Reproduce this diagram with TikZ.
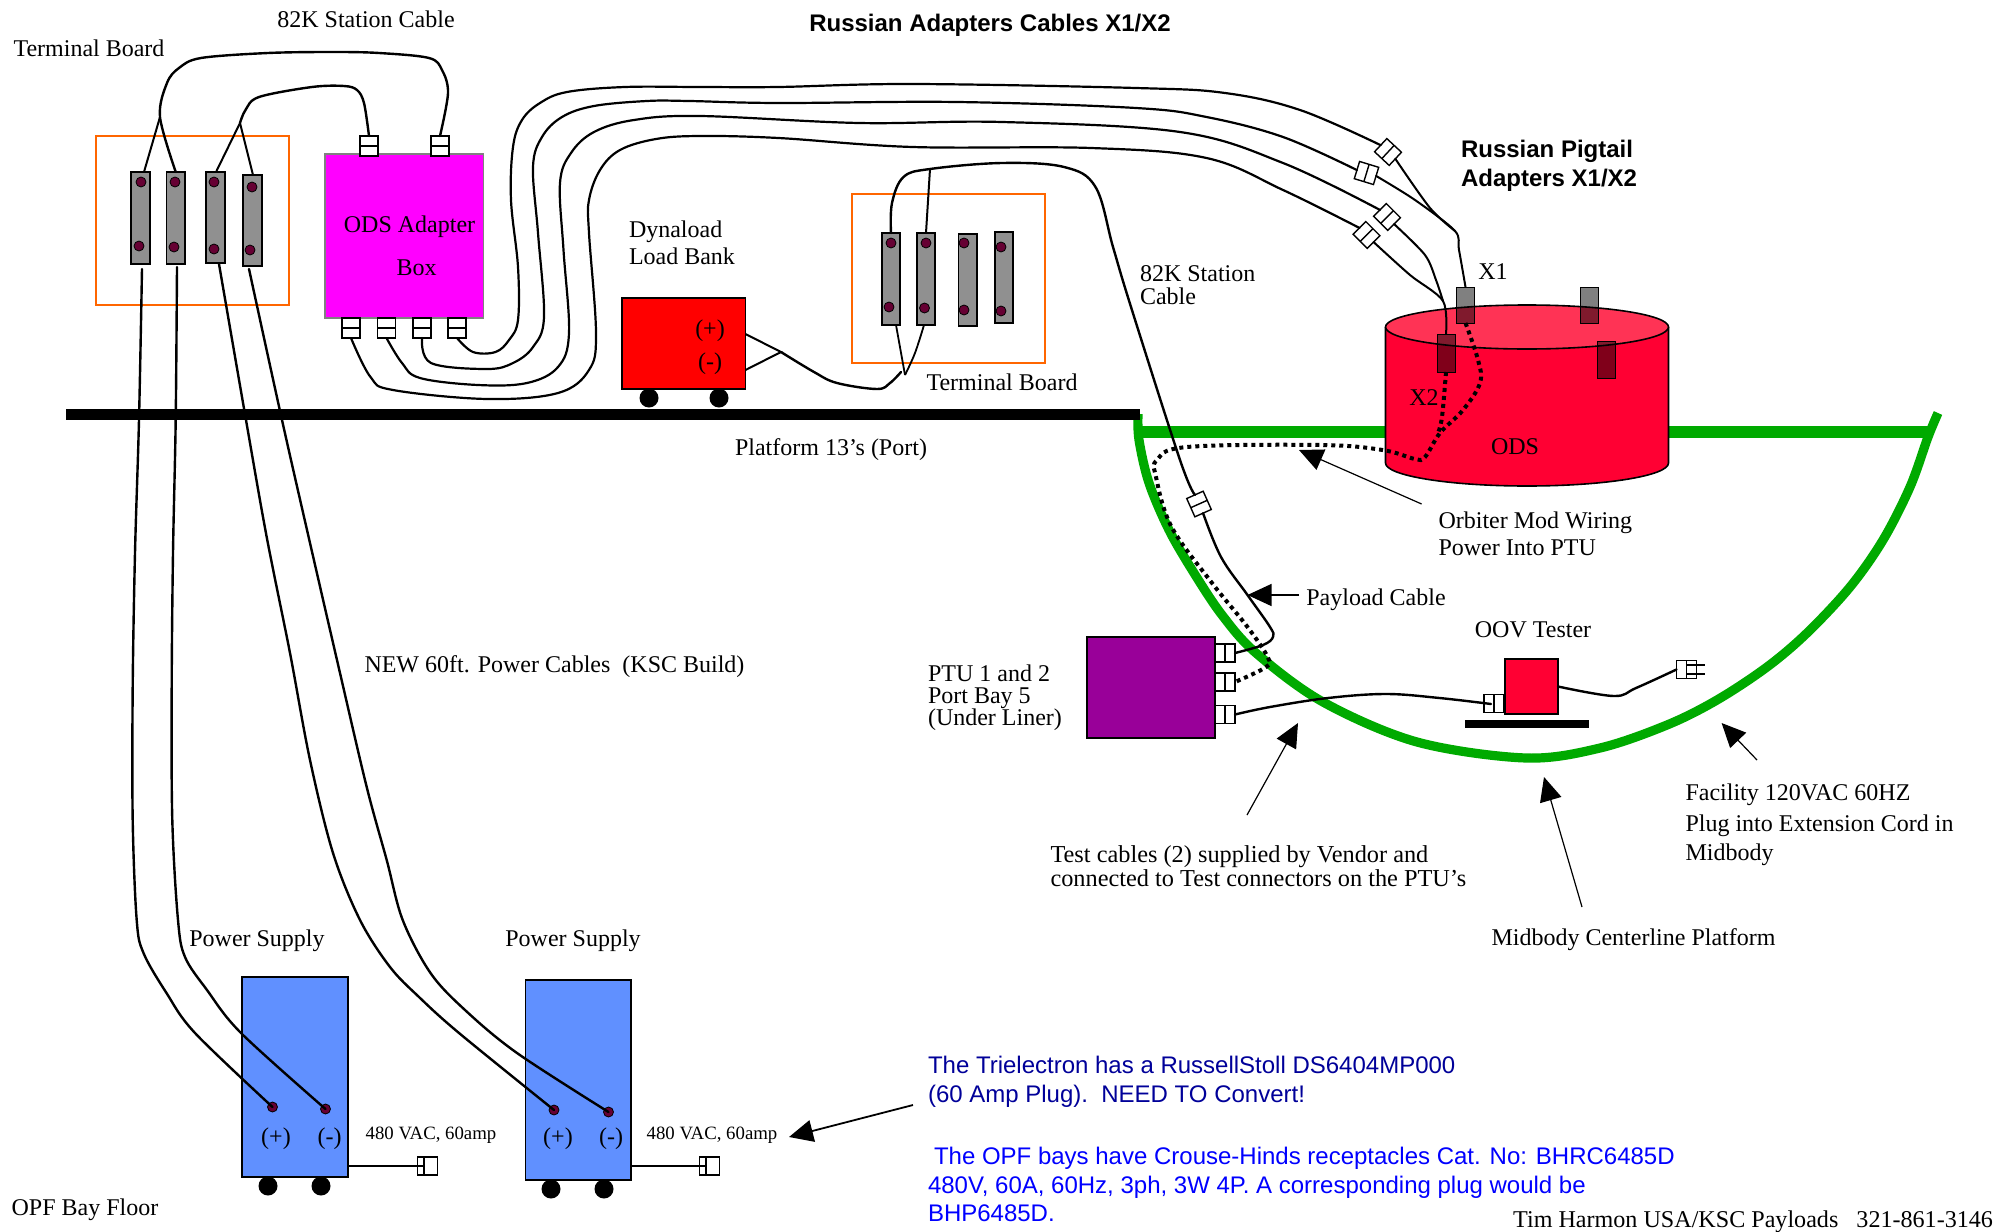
\documentclass[tikz,border=0pt]{standalone}
\usepackage{fontspec}
\setmainfont{Liberation Serif}
\setsansfont{Liberation Sans}
\usetikzlibrary{arrows.meta,calc}
\definecolor{odsred}{HTML}{FF0033}
\definecolor{odstop}{HTML}{FF3355}
\definecolor{grn}{HTML}{00AA00}
\definecolor{magen}{HTML}{FF00FF}
\definecolor{purp}{HTML}{990099}
\definecolor{psblue}{HTML}{6090FF}
\definecolor{maroon}{HTML}{660033}
\definecolor{orng}{HTML}{FF6600}
\definecolor{dkblue}{HTML}{000099}
\definecolor{barg}{HTML}{909090}
\definecolor{blkL}{HTML}{80001A}
\definecolor{blkT}{HTML}{801A2D}
\newcommand{\rbx}[6][]{%
  \pgfmathsetmacro{\cxv}{(#3+#5)/2}\pgfmathsetmacro{\cyv}{(#4+#6)/2}%
  \pgfmathsetmacro{\wv}{abs(#5-#3)/2}\pgfmathsetmacro{\hv}{abs(#6-#4)/2}%
  \node[rbase,minimum width=\wv pt,minimum height=\hv pt,#1] (#2) at (\cxv,\cyv) {};}
\newcommand{\tbar}[9]{%
  \rbx[termbar]{#1}{#2}{#3}{#4}{#5}
  \node[tdot] (#1a) at (#6,#7) {};
  \node[tdot] (#1b) at (#8,#9) {};}
\newcommand{\plugn}[3]{%
  \node[plug,rotate=#1] (#2) at (#3) {};
  \draw[line width=.7pt] (#2.north) -- (#2.south);}
\tikzset{
  rbase/.style={rectangle,inner sep=0pt,outer sep=0pt},
  termbar/.style={draw=black,fill=barg,line width=.8pt},
  tdot/.style={circle,draw=black,fill=maroon,line width=.4pt,minimum size=5pt,inner sep=0pt},
  wheel/.style={circle,fill=black,minimum size=9.5pt,inner sep=0pt},
  obox/.style={draw=orng,line width=.8pt},
  plug/.style={rectangle,draw=black,fill=white,line width=.7pt,inner sep=0pt,outer sep=0pt,
     minimum width=10pt,minimum height=9pt},
  cable/.style={draw=black,line width=1.2pt,line cap=round,line join=round},
  thinw/.style={draw=black,line width=.9pt},
  dotw/.style={draw=black,line width=2pt,dash pattern=on 2pt off 2pt},
  ptr/.style={draw=black,line width=.6pt,-{Triangle[length=12pt,width=11pt]}},
  lab/.style={inner sep=0pt,outer sep=0pt,font=\fontsize{12}{14}\selectfont,align=left},
  smalllab/.style={inner sep=0pt,outer sep=0pt,font=\fontsize{9.4}{11}\selectfont},
  sanslab/.style={inner sep=0pt,outer sep=0pt,font=\sffamily\fontsize{12}{14}\selectfont,align=left},
  sansb/.style={inner sep=0pt,outer sep=0pt,font=\sffamily\bfseries\fontsize{12}{14.5}\selectfont,align=left},
}
\begin{document}
\begin{tikzpicture}[x=0.5pt,y=-0.5pt]
\useasboundingbox (0,0) rectangle (2007,1231);
% ---- terminal board 1
\rbx[obox]{tb1}{96}{136}{289}{305}
\tbar{a1}{131}{172}{150}{264}{141}{182}{139}{246}
\tbar{a2}{166.5}{172}{185}{264}{175}{182}{174}{247}
\tbar{a3}{206}{172}{225}{263}{214}{182}{214}{249}
\tbar{a4}{243}{175}{262}{266}{252}{187}{250}{250}
% ---- ODS adapter box
\rbx[fill=magen,draw=gray,line width=.8pt]{adp}{325}{154}{483.5}{318}
\plugn{90}{pt1}{369,146}
\plugn{90}{pt2}{440,146}
\plugn{90}{pb1}{351,328}
\plugn{90}{pb2}{386.5,328}
\plugn{90}{pb3}{422,328}
\plugn{90}{pb4}{457,328}
% ---- load bank
\rbx[fill=red,draw=black,line width=.8pt]{load}{622}{298}{745.5}{389}
\node[wheel] (lw1) at (649,398) {};
\node[wheel] (lw2) at (719,398) {};
\coordinate (lj) at (781,352);
\coordinate (lp) at (745.5,334);
\coordinate (lm) at (745.5,370);
\draw[thinw,line width=1pt] (lp) -- (lj) -- (lm);
% ---- terminal board 2
\rbx[obox]{tb2}{852}{194}{1045}{363}
\tbar{b1}{882}{233}{900}{325}{891}{243}{889}{307}
\tbar{b2}{917}{233}{935}{325}{926}{243}{924.5}{308}
\tbar{b3}{958.5}{234}{977}{326}{964}{243}{964}{310}
\tbar{b4}{995}{232}{1013}{323}{1001}{247}{1001}{311}
% ---- green platform
\draw[grn,line width=4.6pt] plot[smooth,tension=.55] coordinates {(1138,414) (1139,440) (1149,483) (1169,530) (1194,573) (1222,615) (1256,653) (1323,702) (1417,742) (1526,758) (1600,748) (1667,725) (1717,700) (1767,667) (1807,633) (1850,587) (1883,540) (1910,487) (1928,437) (1938,413)};
\draw[grn,line width=6pt] (1140,432) -- (1928,432);
% ---- bus bar
\rbx[fill=black]{bus}{66}{408.5}{1140}{419.5}
% ---- ODS cylinder
\coordinate (odsT) at (1527,327);
\coordinate (odsB) at (1527,463);
\fill[odsred] (1385.5,327) -- (1385.5,463) arc[start angle=180,end angle=0,x radius=141.5,y radius=23] -- (1668.5,327) -- cycle;
\draw[black,line width=.8pt] (1385.5,327) -- (1385.5,463) arc[start angle=180,end angle=0,x radius=141.5,y radius=23] -- (1668.5,327);
\fill[odstop] (odsT) ellipse[x radius=141.5,y radius=22];
\rbx[fill=gray,draw=black,line width=.5pt]{xa}{1456.5}{287}{1474.5}{323}
\rbx[fill=gray,draw=black,line width=.5pt]{xb}{1580}{287}{1598}{323}
\rbx[fill=blkL,draw=black,line width=.5pt]{xc}{1437}{334}{1455}{372}
\rbx[fill=blkL,draw=black,line width=.5pt]{xd}{1597}{341}{1615}{378}
\begin{scope}
\clip (odsT) ellipse[x radius=141.5,y radius=22];
\fill[blkT] (1456.5,287) rectangle (1474.5,323);
\fill[blkT] (1580,287) rectangle (1598,323);
\fill[blkT] (1437,334) rectangle (1455,372);
\fill[blkT] (1597,341) rectangle (1615,378);
\end{scope}
\draw[black,line width=.5pt] (1456.5,287) rectangle (1474.5,323);
\draw[black,line width=.5pt] (1580,287) rectangle (1598,323);
\draw[black,line width=.5pt] (1437,334) rectangle (1455,372);
\draw[black,line width=.5pt] (1597,341) rectangle (1615,378);
\draw[black,line width=.8pt] (odsT) ellipse[x radius=141.5,y radius=22];
% ---- PTU
\rbx[fill=purp,draw=black,line width=.8pt]{ptu}{1087}{637}{1215}{738}
% ---- OOV tester
\rbx[fill=black]{stand}{1465}{720}{1589}{728}
\rbx[fill=odsred,draw=black,line width=.8pt]{oov}{1505}{659}{1558}{714}
% ---- power supplies
\rbx[fill=psblue,draw=black,line width=.8pt]{ps1}{242}{977}{348}{1177}
\rbx[fill=psblue,draw=black,line width=.8pt]{ps2}{525.5}{980}{631}{1180}
\node[wheel] (w1) at (268,1186) {};
\node[wheel] (w2) at (321,1186) {};
\node[wheel] (w3) at (551,1189) {};
\node[wheel] (w4) at (604,1189) {};
\node[tdot] (d1) at (272.5,1107) {};
\node[tdot] (d2) at (325.5,1109) {};
\node[tdot] (d3) at (554,1110) {};
\node[tdot] (d4) at (608.5,1112) {};
\coordinate (s1) at (348,1166);
\coordinate (s2) at (631,1166);
\node[plug] (pp1) at (427.5,1166) {};
\node[plug] (pp2) at (709.5,1166) {};
\draw[line width=.7pt] ($(pp1.north)+(-3.5,0)$) -- ($(pp1.south)+(-3.5,0)$);
\draw[line width=.7pt] ($(pp2.north)+(-3.5,0)$) -- ($(pp2.south)+(-3.5,0)$);
\draw[line width=.7pt] (s1) -- ($(pp1.center)+(-3.5,0)$);
\draw[line width=.7pt] (s2) -- ($(pp2.center)+(-3.5,0)$);
% ---- 82K station cable, first board
\coordinate (j1) at (160,117);
\coordinate (j2) at (240,123);
\draw[cable] plot[smooth,tension=.55] coordinates {(pt2.east) (448,93) (442,70) (429,58) (379,53) (333,52) (268,53) (201,58) (179,68) (167,83) (j1) (a2.north)};
\draw[cable,line width=1pt] (j1) -- (144,172);
\draw[cable] plot[smooth,tension=.55] coordinates {(pt1.east) (364,103) (357,90) (344,86) (312,87) (259,97) (245.5,110) (j2)};
\draw[cable,line width=1pt] (j2) -- (216.5,171);
\draw[cable,line width=1pt] (j2) -- (253,175);
% ---- power cables
\draw[cable] plot[smooth,tension=.55] coordinates {(142,269) (139,420) (135,553) (132.7,687) (132.7,820) (136.7,920) (143.5,953) (166.5,993) (195,1033) (d1)};
\draw[cable] plot[smooth,tension=.55] coordinates {(177,267) (175.7,420) (173,553) (171.7,687) (172.3,820) (178,920) (185,957) (207,990) (241,1033) (d2)};
\draw[cable] plot[smooth,tension=.55] coordinates {(219,264) (246,420) (266.7,537) (290,653) (310,760) (333,853) (360,920) (390,967) (419,997) (459,1033) (d3)};
\draw[cable] plot[smooth,tension=.55] coordinates {(249,269) (282,420) (310,543) (340,673) (366.7,787) (386.7,860) (402.7,920) (430.5,973) (465,1010) (517,1053) (d4)};
% ---- pigtail plugs
\plugn{-43}{q1}{1388,152}
\plugn{-17}{q2}{1366.5,173}
\plugn{-45}{q3}{1387,217}
\plugn{-45}{q4}{1366.5,235}
\coordinate (k1) at (1455,231);
\coordinate (k2) at (1443,301);
% ---- four long cables
\draw[cable,line width=1.1pt] plot[smooth,tension=.6] coordinates {(pb4.west) (473,352) (495.5,352) (509,340) (518,320) (518,267) (511,200) (513,147) (522,120) (540,103) (567,92) (625,87) (700,87) (778,87) (912.5,84) (1136,88) (1225,93) (1300,110) (q1.west)};
\draw[cable,line width=1.1pt] plot[smooth,tension=.6] coordinates {(pb3.west) (431,363) (487,369) (513,363) (533,347) (544,317) (538,233) (533,167) (542,137) (562,117) (594,106) (647,101) (689,101) (778.5,103) (957,102) (1136,108) (1206.5,117) (1283,137) (q2.west)};
\draw[cable,line width=1.1pt] plot[smooth,tension=.6] coordinates {(pb2.west) (402,363) (420,378) (478,385) (527,383) (558,367) (569,333) (563.5,250) (560,183) (571,153) (594,132) (634,120) (700,116) (859,123) (1002,122) (1180,132) (1283,163) (q3.west)};
\draw[cable,line width=1.1pt] plot[smooth,tension=.6] coordinates {(pb1.west) (370.5,377) (393,390) (487,399) (558,393) (589,370) (596,333) (589,233) (589,200) (600,170) (620,150) (656,139) (700,136) (778.5,138) (912.5,147) (1091,148) (1206.5,158) (1283,190) (q4.west)};
% pigtails to ODS
\draw[cable,line width=1pt] plot[smooth,tension=.5] coordinates {(q1.east) (1430,208) (k1)};
\draw[cable,line width=1pt] plot[smooth,tension=.5] coordinates {(q2.east) (1415,200) (k1) (1459,250) (xa.north)};
\draw[cable,line width=1pt] plot[smooth,tension=.5] coordinates {(q3.east) (1425,255) (1436,280) (k2)};
\draw[cable,line width=1pt] plot[smooth,tension=.5] coordinates {(q4.east) (1410,275) (k2) (xc.north)};
% ---- load bank wiring
\coordinate (lk) at (905,375);
\draw[cable] plot[smooth,tension=.6] coordinates {(lj) (814,372) (837,383) (877,389) (890,383) (901,372)};
\draw[thinw] (lk) -- (896,325);
\draw[thinw] plot[smooth,tension=.6] coordinates {(lk) (915,353) (924,325)};
% ---- station cable, second board + payload
\coordinate (m2) at (930,169);
\plugn{-66}{pl}{1199,504}
\plugn{0}{u1}{1225,653}
\plugn{0}{u2}{1225,682}
\plugn{0}{u3}{1225,714.5}
\draw[cable] plot[smooth,tension=.6] coordinates {(b1.north) (892,203) (903.5,177) (m2) (1002,163) (1064,167) (1095.5,187) (1113,247) (1131,307) (1180,460) (pl.west)};
\draw[cable] plot[smooth,tension=.6] coordinates {(pl.east) (1221,557) (1247.5,595) (1270,627) (1273,637) (1263,645) (u1.east)};
\draw[thinw,line width=1pt] (m2) -- (b2.north);
% ---- mod wiring
\draw[dotw] plot[smooth,tension=.6] coordinates {(xa.south) (1478,360) (1480,383) (1463,410) (1440,433) (1425,457) (1415,459) (1382.6,450) (1321,445) (1187,447) (1157,460) (1156,477) (1171.6,527) (1212,583) (1247.5,627) (1267.6,657) (1266,667) (u2.east)};
\draw[dotw] plot[smooth,tension=.6] coordinates {(xc.south) (1442,417) (1438,433)};
% ---- test cables
\plugn{0}{u4}{1494,703.5}
\draw[cable] plot[smooth,tension=.6] coordinates {(u3.east) (1270,707) (1328,698) (1386,694) (1439.5,698) (1491,704)};
\plugn{0}{u5}{1686.5,669.5}
\coordinate (pr1) at (1705,665);
\coordinate (pr2) at (1705,674);
\draw[line width=.8pt] (pr1-|u5.north) -- (pr1);
\draw[line width=.8pt] (pr2-|u5.north) -- (pr2);
\draw[cable] plot[smooth,tension=.6] coordinates {(oov.east) (1613.6,696) (1636,688) (u5.west)};
% ---- pointers
\coordinate (o1) at (1421.6,504); \coordinate (o2) at (1299,450);
\draw[ptr] (o1) -- (o2);
\coordinate (o3) at (1299,595); \coordinate (o4) at (1247.5,595);
\draw[ptr] (o3) -- (o4);
\coordinate (o5) at (1247,815); \coordinate (o6) at (1298,723);
\draw[ptr] (o5) -- (o6);
\coordinate (o7) at (1582,907); \coordinate (o8) at (1544,777);
\draw[ptr] (o7) -- (o8);
\coordinate (o9) at (1757,760); \coordinate (o10) at (1721.6,723);
\draw[ptr] (o9) -- (o10);
\coordinate (o11) at (913,1105); \coordinate (o12) at (789,1137);
\draw[ptr,line width=.9pt] (o11) -- (o12);
% ---- labels
\node[lab] (t1) at (366,19) {82K Station Cable};
\node[lab] (t2) at (89,48) {Terminal Board};
\node[sansb] (t3) at (990,25.5) {Russian Adapters Cables X1/X2};
\node[sansb,anchor=north west] (t4) at (1461,140) {Russian Pigtail\\Adapters X1/X2};
\node[lab] (t5) at (1493,272) {X1};
\node[lab] (t6) at (1424,398) {X2};
\node[lab] (t7) at (1515,447) {ODS};
\node[lab,anchor=west] (t8) at (1140,273.5) {82K Station};
\node[lab,anchor=west] (t9) at (1140,296) {Cable};
\node[lab,anchor=west] (t10) at (629,232) {Dynaload};
\node[lab,anchor=west] (t11) at (629,256) {Load Bank};
\node[lab] (t12) at (1002,382.5) {Terminal Board};
\node[lab] (t13) at (831,450) {Platform 13’s (Port)};
\node[lab] (t14) at (409.5,227) {ODS Adapter};
\node[lab] (t15) at (416.5,268) {Box};
\node[lab] (t16) at (710,331) {(+)};
\node[lab] (t17) at (710,364) {(-)};
\node[lab,anchor=west] (t18) at (1438.5,523) {Orbiter Mod Wiring};
\node[lab,anchor=west] (t19) at (1438.5,548) {Power Into PTU};
\node[lab] (t20) at (1376,600) {Payload Cable};
\node[lab] (t21) at (1533,630) {OOV Tester};
\node[lab,anchor=west] (t22) at (928,673) {PTU 1 and 2};
\node[lab,anchor=west] (t23) at (928,698) {Port Bay 5};
\node[lab,anchor=west] (t24) at (928,720) {(Under Liner)};
\node[lab,anchor=west] (t25) at (364.5,667) {NEW 60ft. Power Cables\ \ (KSC Build)};
\node[lab,font=\fontsize{12.16}{14}\selectfont,anchor=west] (t26) at (1050.5,857) {Test cables (2) supplied by Vendor and};
\node[lab,font=\fontsize{12.16}{14}\selectfont,anchor=west] (t27) at (1050.5,878) {connected to Test connectors on the PTU’s};
\node[lab] (t28) at (1633.5,940) {Midbody Centerline Platform};
\node[lab,anchor=west] (t29) at (1685.5,795) {Facility 120VAC 60HZ};
\node[lab,anchor=west] (t30) at (1685.5,826) {Plug into Extension Cord in};
\node[lab,anchor=west] (t31) at (1685.5,855) {Midbody};
\node[lab] (t32) at (257,940.5) {Power Supply};
\node[lab] (t33) at (573,940.5) {Power Supply};
\node[lab] (t34) at (276,1139) {(+)};
\node[lab] (t35) at (329.5,1139) {(-)};
\node[lab] (t36) at (558,1139) {(+)};
\node[lab] (t37) at (611,1139) {(-)};
\node[smalllab] (t38) at (431,1135) {480 VAC, 60amp};
\node[smalllab] (t39) at (712,1135) {480 VAC, 60amp};
\node[lab] (t40) at (85,1209.5) {OPF Bay Floor};
\node[sanslab,anchor=west,text=dkblue] (t41) at (928,1065) {The Trielectron has a RussellStoll DS6404MP000};
\node[sanslab,anchor=west,text=dkblue] (t42) at (928,1096) {(60 Amp Plug).\ \ NEED TO Convert!};
\node[sanslab,anchor=west,text=blue] (t43) at (934,1158) {The OPF bays have Crouse-Hinds receptacles Cat. No: BHRC6485D};
\node[sanslab,anchor=west,text=blue] (t44) at (928,1187) {480V, 60A, 60Hz, 3ph, 3W 4P. A corresponding plug would be};
\node[sanslab,anchor=west,text=blue] (t45) at (928,1213) {BHP6485D.};
\node[lab,font=\fontsize{12.05}{14}\selectfont,anchor=east] (t46) at (1993,1222) {Tim Harmon USA/KSC Payloads\ \ \ 321-861-3146};
\end{tikzpicture}
\end{document}
